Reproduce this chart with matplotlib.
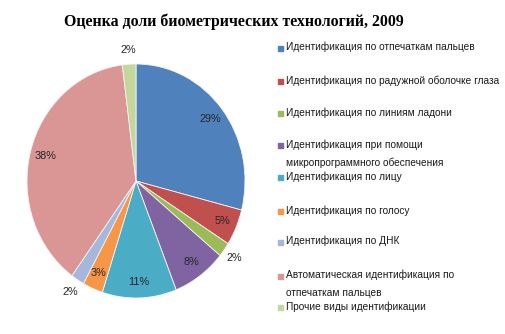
import matplotlib.pyplot as plt
import numpy as np
from matplotlib.patches import Rectangle

plt.rcParams['font.family'] = ['Liberation Sans', 'DejaVu Sans']

title = 'Оценка доли биометрических технологий, 2009'
labels = [
    'Идентификация по отпечаткам пальцев',
    'Идентификация по радужной оболочке глаза',
    'Идентификация по линиям ладони',
    'Идентификация при помощи\nмикропрограммного обеспечения',
    'Идентификация по лицу',
    'Идентификация по голосу',
    'Идентификация по ДНК',
    'Автоматическая идентификация по\nотпечаткам пальцев',
    'Прочие виды идентификации',
]
shares = [29, 5, 2, 8, 11, 3, 2, 38, 2]
colors = ['#4F81BD', '#C0504D', '#9BBB59', '#8064A2', '#4BACC6',
          '#F79646', '#A5B8DC', '#D99694', '#C3D69B']

W, H = 506, 334
fig = plt.figure(figsize=(W / 100, H / 100), dpi=100)

# pie drawn slightly stretched vertically, like the original
ax = fig.add_axes([27 / W, (H - 298) / H, 218 / W, 234 / H])
wedges, _ = ax.pie(shares, colors=colors, startangle=90, counterclock=False,
                   wedgeprops=dict(edgecolor='#f4f4f4', linewidth=0.6))
ax.set_aspect('auto')
ax.set_xlim(-1, 1)
ax.set_ylim(-1, 1)
ax.axis('off')

for w, v in zip(wedges, shares):
    ang = np.deg2rad((w.theta1 + w.theta2) / 2)
    r = 1.12 if v <= 2 else 0.86
    ax.text(r * np.cos(ang), r * np.sin(ang), f'{v}%', ha='center', va='center',
            fontsize=7.8, color='#262626', clip_on=False)

fig.text(234 / W, 1 - 22 / H, title, ha='center', va='center',
         fontsize=11.4, fontweight='bold', family=['Liberation Serif'])

# legend, hand placed to keep the uneven spacing
rows = [48, 81, 113, 145, 177, 211, 242, 276, 307]
for lab, c, y in zip(labels, colors, rows):
    fig.patches.append(Rectangle((278 / W, 1 - (y + 3) / H), 5 / W, 5 / H,
                                 transform=fig.transFigure, color=c))
    fig.text(286 / W, 1 - (y - 6) / H, lab, ha='left', va='top',
             fontsize=7.3, color='#1a1a1a', linespacing=2.0)

fig.savefig('out.png', dpi=100)
